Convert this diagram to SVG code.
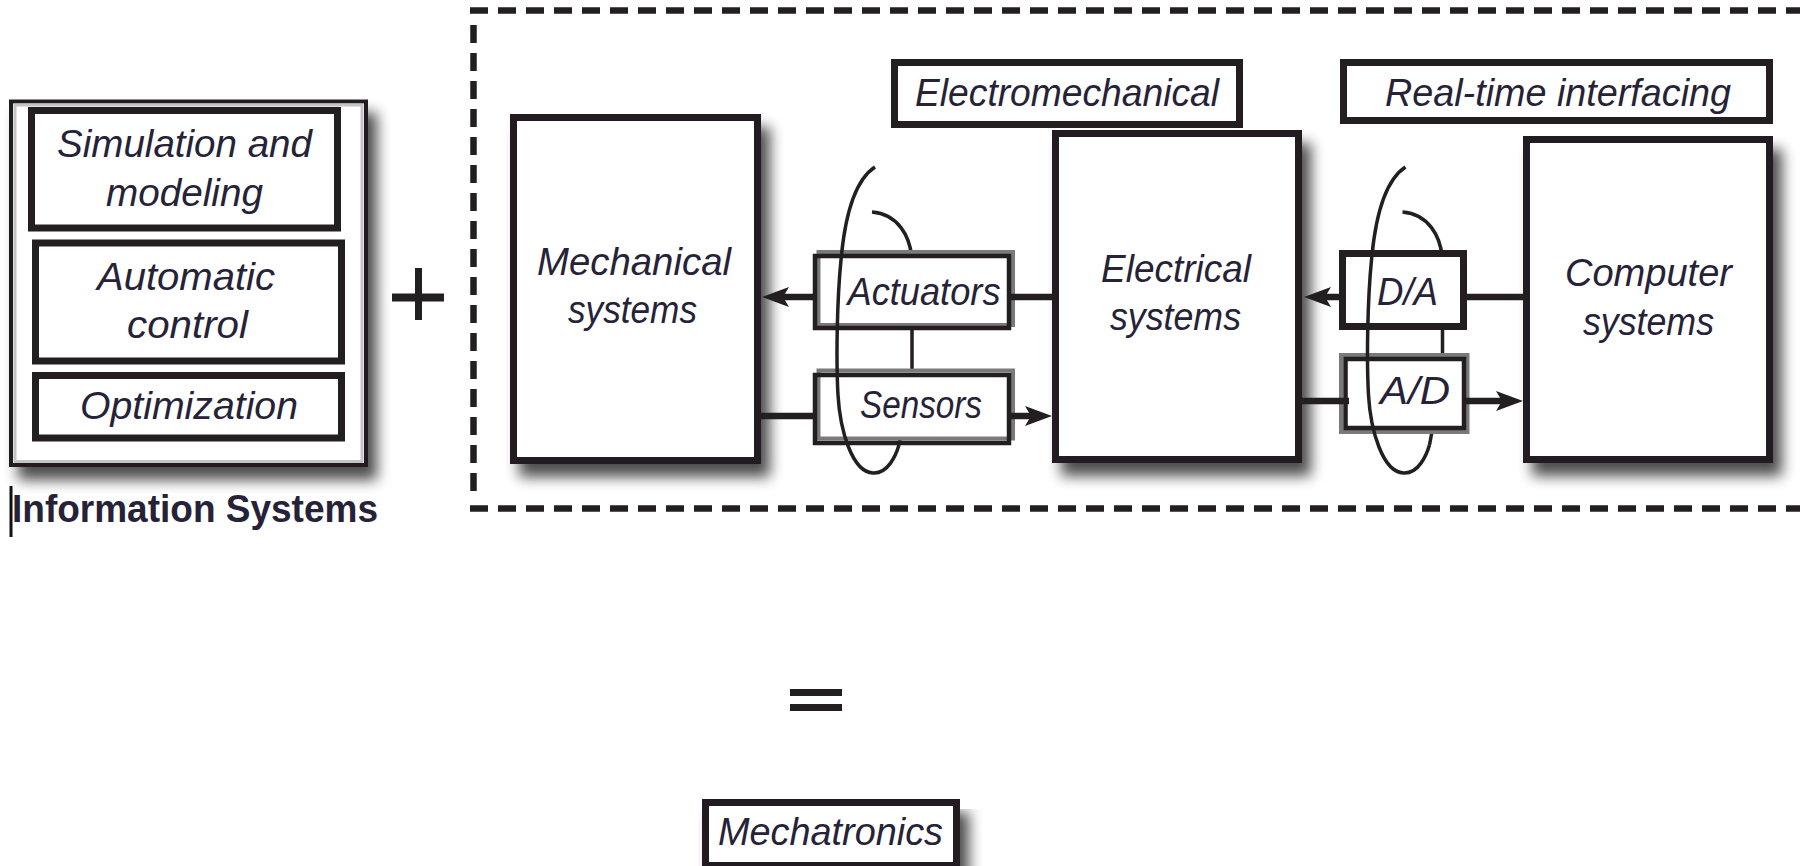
<svg xmlns="http://www.w3.org/2000/svg" xmlns:xlink="http://www.w3.org/1999/xlink" width="1800" height="866" viewBox="0 0 1800 866">
<style>
.t{font-family:"Liberation Sans",Arial,sans-serif;font-style:italic;font-size:38px;fill:#262238;text-anchor:middle}
.tb{font-family:"Liberation Sans",Arial,sans-serif;font-weight:bold;font-size:38px;fill:#262238}
.bx{fill:#fff;stroke:#231f20;stroke-width:7}
.bs{fill:none;stroke:#231f20;stroke-width:4.5}
.gr{fill:#fff;stroke:#7a7a7a;stroke-width:4}
.ln{stroke:#231f20;stroke-width:6.5;fill:none}
.lp{stroke:#231f20;stroke-width:3.5;fill:none}
.ds{stroke:#231f20;stroke-width:6.5;stroke-dasharray:18 10;fill:none}
</style>
<defs>
<filter id="sh" x="-10%" y="-10%" width="130%" height="130%">
<feGaussianBlur in="SourceAlpha" stdDeviation="7"/>
<feOffset dx="9" dy="13" result="b"/>
<feComponentTransfer in="b"><feFuncA type="linear" slope="0.7"/></feComponentTransfer>
<feMerge><feMergeNode/><feMergeNode in="SourceGraphic"/></feMerge>
</filter>
<path id="ah" d="M0,0 L-27,-10 L-21,0 L-27,10 Z" fill="#231f20"/>
<path id="loopBack" d="M899 445 L912 375 L912 262 C911 235 897 214 872 212"/>
<path id="loopFront" d="M875 167 C855 180 845 215 841 260 C837 300 836 360 838 395 C840 430 852 472 873 473 C888 474 896 455 899 445"/>
</defs>
<rect width="1800" height="866" fill="#fff"/>

<g id="border">
<line class="ds" x1="470" y1="10.5" x2="1800" y2="10.5"/>
<line class="ds" x1="473.5" y1="25" x2="473.5" y2="495"/>
<line class="ds" x1="470" y1="508.5" x2="1800" y2="508.5"/>
</g>

<g id="information-systems">
<rect x="11" y="101.5" width="355" height="363.5" fill="#fff" stroke="#231f20" stroke-width="4" filter="url(#sh)"/>
<rect x="15" y="105" width="347" height="356.5" fill="none" stroke="#c4c4c4" stroke-width="3"/>
<g id="simulation">
<rect class="bx" x="31.5" y="110.5" width="306" height="117.5"/>
<text class="t" x="184.5" y="157" textLength="255" lengthAdjust="spacingAndGlyphs">Simulation and</text>
<text class="t" x="184.5" y="206" textLength="157" lengthAdjust="spacingAndGlyphs">modeling</text>
</g>
<g id="automatic-control">
<rect class="bx" x="35.5" y="243" width="306" height="118"/>
<text class="t" x="186" y="290" textLength="178" lengthAdjust="spacingAndGlyphs">Automatic</text>
<text class="t" x="187.5" y="338" textLength="121" lengthAdjust="spacingAndGlyphs">control</text>
</g>
<g id="optimization">
<rect class="bx" x="35.5" y="375.5" width="306" height="62.5"/>
<text class="t" x="189" y="419" textLength="218" lengthAdjust="spacingAndGlyphs">Optimization</text>
</g>
<text class="tb" x="12" y="522" textLength="366" lengthAdjust="spacingAndGlyphs">Information Systems</text>
<rect x="9.5" y="486" width="3" height="51" fill="#111"/>
</g>

<g id="plus">
<rect x="392" y="293.5" width="52" height="8" fill="#231f20"/>
<rect x="415" y="268" width="7" height="52" fill="#231f20"/>
</g>

<g id="connectors-back">
<use xlink:href="#loopBack" class="lp"/>
<use xlink:href="#loopBack" class="lp" transform="translate(530.5,0)"/>
</g>

<g id="mechanical">
<rect class="bx" x="513.5" y="117.5" width="244" height="343" filter="url(#sh)"/>
<text class="t" x="634" y="275" textLength="194" lengthAdjust="spacingAndGlyphs">Mechanical</text>
<text class="t" x="632.5" y="323" textLength="129" lengthAdjust="spacingAndGlyphs">systems</text>
</g>

<g id="electrical">
<rect class="bx" x="1055.5" y="133.5" width="243" height="326" filter="url(#sh)"/>
<text class="t" x="1176" y="282" textLength="150" lengthAdjust="spacingAndGlyphs">Electrical</text>
<text class="t" x="1175.5" y="330" textLength="131" lengthAdjust="spacingAndGlyphs">systems</text>
</g>

<g id="electromechanical">
<rect class="bx" x="894.5" y="62.5" width="345" height="62"/>
<text class="t" x="1067" y="106" textLength="304" lengthAdjust="spacingAndGlyphs">Electromechanical</text>
</g>

<g id="computer">
<rect class="bx" x="1526.5" y="139.5" width="243" height="320" filter="url(#sh)"/>
<text class="t" x="1648.5" y="286" textLength="167" lengthAdjust="spacingAndGlyphs">Computer</text>
<text class="t" x="1648.5" y="335" textLength="131" lengthAdjust="spacingAndGlyphs">systems</text>
</g>

<g id="realtime">
<rect class="bx" x="1343.5" y="62.5" width="426" height="58"/>
<text class="t" x="1558" y="106" textLength="346" lengthAdjust="spacingAndGlyphs">Real-time interfacing</text>
</g>

<g id="actuators">
<rect class="gr" x="818.5" y="252" width="194.5" height="73"/>
<rect class="bs" x="815" y="256" width="194" height="72"/>
<text class="t" x="924" y="305" textLength="153" lengthAdjust="spacingAndGlyphs">Actuators</text>
</g>

<g id="sensors">
<rect class="gr" x="818.5" y="370.5" width="194.5" height="68"/>
<rect class="bs" x="815" y="375" width="194" height="68"/>
<text class="t" x="921" y="418" textLength="122" lengthAdjust="spacingAndGlyphs">Sensors</text>
</g>

<g id="da">
<rect class="bx" x="1342.5" y="253.5" width="121" height="73"/>
<text class="t" x="1407.5" y="305" textLength="61" lengthAdjust="spacingAndGlyphs">D/A</text>
</g>

<g id="ad">
<rect class="gr" x="1341" y="355" width="126.5" height="77"/>
<rect class="bs" x="1345.5" y="359" width="118.5" height="69"/>
<text class="t" x="1415" y="404" textLength="70" lengthAdjust="spacingAndGlyphs">A/D</text>
</g>

<g id="connectors">
<line class="ln" x1="813" y1="297" x2="782" y2="297"/>
<use xlink:href="#ah" transform="translate(762,297) scale(-1,1)"/>
<line class="ln" x1="1009" y1="297" x2="1055" y2="297"/>
<line class="ln" x1="759" y1="416" x2="815" y2="416"/>
<line class="ln" x1="1009" y1="416" x2="1032" y2="416"/>
<use xlink:href="#ah" transform="translate(1052,416)"/>
<line class="ln" x1="1340" y1="297" x2="1324" y2="297"/>
<use xlink:href="#ah" transform="translate(1304,297) scale(-1,1)"/>
<line class="ln" x1="1466" y1="297" x2="1525" y2="297"/>
<line class="ln" x1="1300" y1="401" x2="1349" y2="401"/>
<line class="ln" x1="1466" y1="401" x2="1503" y2="401"/>
<use xlink:href="#ah" transform="translate(1523,401)"/>
<use xlink:href="#loopFront" class="lp"/>
<use xlink:href="#loopFront" class="lp" transform="translate(530.5,0)"/>
</g>

<g id="equals">
<rect x="790" y="689" width="52" height="7" fill="#231f20"/>
<rect x="790" y="704" width="52" height="7" fill="#231f20"/>
</g>

<g id="mechatronics">
<rect class="bx" x="705.5" y="802.5" width="251" height="63" filter="url(#sh)"/>
<text class="t" x="830.5" y="845" textLength="225" lengthAdjust="spacingAndGlyphs">Mechatronics</text>
</g>
</svg>
